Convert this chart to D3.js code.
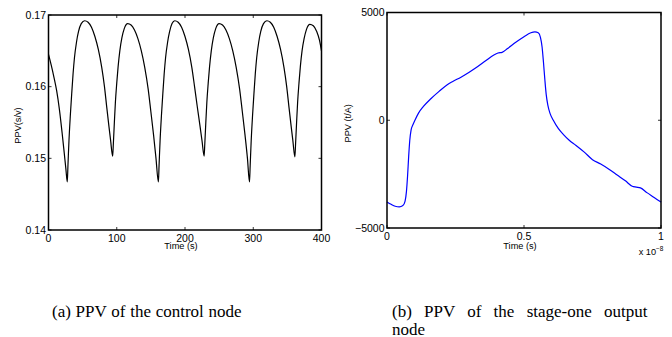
<!DOCTYPE html>
<html>
<head>
<meta charset="utf-8">
<script src="https://cdn.jsdelivr.net/npm/d3@7/dist/d3.min.js"></script>
<style>
  body { margin: 0; background: #fff; }
  svg { display: block; }
  .tick-lbl { font-family: "Liberation Sans", Arial, sans-serif; font-size: 10.5px; fill: #000; }
  .ax-lbl { font-family: "Liberation Sans", Arial, sans-serif; font-size: 9.2px; fill: #000; }
  .caption { font-family: "Liberation Serif", "Times New Roman", serif; font-size: 17px; fill: #000; }
</style>
</head>
<body>
<svg id="fig" width="672" height="337"></svg>
<script>
// --- data: (a) control node ---
var timeA = [0, 4, 8, 12, 16, 20, 23, 25.5, 27.5,
  28.5, 30, 32, 34, 36, 38, 41, 44, 48, 53,
  58, 63, 68, 73, 78, 82, 85.5, 88.5, 91, 94,
  95, 96.5, 98, 100, 102, 104.5, 107.5, 111, 116,
  121, 126, 131, 136, 141, 146, 150, 154, 157.5, 161,
  162, 163.5, 165.5, 167.5, 169.5, 171.5, 174.5, 177.5, 181, 185,
  190, 195, 200, 205, 210, 214, 218, 222, 225, 228,
  229, 230.5, 232, 234, 236, 238.5, 241.5, 245, 250,
  255, 260, 265, 270, 275, 280, 284, 288, 291.5, 294.5,
  295.5, 297, 299, 301, 303, 305, 308, 311, 315, 320,
  325, 330, 335, 340, 345, 349, 352.5, 355.5, 358, 361,
  362, 363.5, 365, 367, 369, 371.5, 374.5, 378, 383,
  388, 393, 397, 400];
var ppvA = [0.1645, 0.1630, 0.1613, 0.1594, 0.1568, 0.1535, 0.1508, 0.1485, 0.1467,
  0.1490, 0.1525, 0.1560, 0.1590, 0.1618, 0.1640, 0.1662, 0.1677, 0.1688, 0.1692,
  0.1690, 0.1683, 0.1670, 0.1652, 0.1627, 0.1600, 0.1570, 0.1545, 0.1525, 0.1503,
  0.1520, 0.1550, 0.1578, 0.1605, 0.1628, 0.1650, 0.1668, 0.1681, 0.1688,
  0.1686, 0.1679, 0.1667, 0.1650, 0.1627, 0.1597, 0.1565, 0.1532, 0.1500, 0.1467,
  0.1490, 0.1525, 0.1560, 0.1590, 0.1618, 0.1640, 0.1662, 0.1677, 0.1688, 0.1692,
  0.1690, 0.1683, 0.1670, 0.1652, 0.1627, 0.1600, 0.1572, 0.1545, 0.1524, 0.1503,
  0.1520, 0.1550, 0.1578, 0.1605, 0.1628, 0.1650, 0.1668, 0.1681, 0.1688,
  0.1686, 0.1679, 0.1667, 0.1650, 0.1627, 0.1597, 0.1565, 0.1532, 0.1500, 0.1467,
  0.1490, 0.1525, 0.1560, 0.1590, 0.1618, 0.1640, 0.1662, 0.1677, 0.1688, 0.1692,
  0.1690, 0.1683, 0.1670, 0.1652, 0.1627, 0.1600, 0.1570, 0.1545, 0.1525, 0.1502,
  0.1520, 0.1550, 0.1578, 0.1605, 0.1628, 0.1650, 0.1667, 0.1680, 0.1687,
  0.1685, 0.1677, 0.1665, 0.1650];
var xTicksA = [0, 100, 200, 300, 400];
var yTicksA = [0.14, 0.15, 0.16, 0.17];

// --- data: (b) stage-one output node (time in units of 1e-8 s) ---
var timeB = [0, 0.015, 0.030, 0.045, 0.058, 0.066, 0.071, 0.075, 0.079, 0.083, 0.088, 0.095,
  0.102, 0.115, 0.133, 0.160, 0.190, 0.220, 0.240, 0.270, 0.300, 0.330, 0.360, 0.390,
  0.405, 0.420, 0.440, 0.470, 0.500, 0.525, 0.540, 0.552, 0.560, 0.566, 0.571, 0.576,
  0.581, 0.587, 0.595, 0.607, 0.625, 0.645, 0.665, 0.690, 0.720, 0.750, 0.780, 0.810,
  0.840, 0.870, 0.895, 0.910, 0.925, 0.950, 0.975, 1.000];
var ppvB = [-3790, -3900, -3990, -4020, -3960, -3750, -3300, -2600, -1700, -950, -450, -200,
  0, 330, 640, 1000, 1340, 1650, 1800, 2000, 2230, 2480, 2760, 3030,
  3120, 3150, 3330, 3620, 3880, 4060, 4100, 4060, 3850, 3400, 2700, 1900,
  1200, 700, 320, 0, -380, -680, -930, -1170, -1480, -1830, -2030, -2270,
  -2540, -2810, -3060, -3100, -3140, -3370, -3580, -3800];
var xTicksB = [0, 0.5, 1];
var yTicksB = [-5000, 0, 5000];

var captions = ["(a) PPV of the control node", "(b) PPV of the stage-one output", "node"];

var svg = d3.select("#fig");

// draws one MATLAB style panel
function drawPanel(opt) {
	var g = svg.append("g");
	var x = d3.scaleLinear().domain(opt.xDomain).range([opt.left, opt.right]);
	var y = d3.scaleLinear().domain(opt.yDomain).range([opt.bottom, opt.top]);

	// the curve
	var pts = opt.xs.map(function(d, i) { return [d, opt.ys[i]]; });
	var line = d3.line()
		.x(function(d) { return x(d[0]); })
		.y(function(d) { return y(d[1]); })
		.curve(d3.curveMonotoneX);
	g.append("path")
		.datum(pts)
		.attr("d", line)
		.attr("fill", "none")
		.attr("stroke", opt.color)
		.attr("stroke-width", 1.2);

	// box
	g.append("rect")
		.attr("x", opt.left).attr("y", opt.top)
		.attr("width", opt.right - opt.left).attr("height", opt.bottom - opt.top)
		.attr("fill", "none").attr("stroke", "#000").attr("stroke-width", 1.5);

	// inward ticks, all four sides
	var tl = 3;
	opt.xTicks.forEach(function(t) {
		g.append("line").attr("x1", x(t)).attr("x2", x(t)).attr("y1", opt.bottom).attr("y2", opt.bottom - tl)
			.attr("stroke", "#000").attr("stroke-width", 0.8);
		g.append("line").attr("x1", x(t)).attr("x2", x(t)).attr("y1", opt.top).attr("y2", opt.top + tl)
			.attr("stroke", "#000").attr("stroke-width", 0.8);
		g.append("text").attr("class", "tick-lbl")
			.attr("x", x(t)).attr("y", opt.bottom + 11.5)
			.attr("text-anchor", "middle")
			.text(opt.xFmt(t));
	});
	opt.yTicks.forEach(function(t) {
		g.append("line").attr("x1", opt.left).attr("x2", opt.left + tl).attr("y1", y(t)).attr("y2", y(t))
			.attr("stroke", "#000").attr("stroke-width", 0.8);
		g.append("line").attr("x1", opt.right).attr("x2", opt.right - tl).attr("y1", y(t)).attr("y2", y(t))
			.attr("stroke", "#000").attr("stroke-width", 0.8);
		g.append("text").attr("class", "tick-lbl")
			.attr("x", opt.left - 2.5).attr("y", y(t) + 3.7)
			.attr("text-anchor", "end")
			.text(opt.yFmt(t));
	});

	// axis labels
	g.append("text").attr("class", "ax-lbl")
		.attr("x", (opt.left + opt.right) / 2 - 4).attr("y", opt.bottom + opt.xLabelDy)
		.attr("text-anchor", "middle")
		.text("Time (s)");
	g.append("text").attr("class", "ax-lbl")
		.attr("transform", "translate(" + opt.yLabelX + "," + ((opt.top + opt.bottom) / 2 + 3) + ") rotate(-90)")
		.attr("text-anchor", "middle")
		.text(opt.yLabel);
	return g;
}

drawPanel({
	left: 48.5, right: 321.5, top: 15, bottom: 230,
	xDomain: [0, 400], yDomain: [0.14, 0.17],
	xs: timeA, ys: ppvA, color: "#000",
	xTicks: xTicksA, yTicks: yTicksA,
	xFmt: function(d) { return d; },
	yFmt: function(d) { return d3.format(".2f")(d); },
	xLabelDy: 18.5, yLabel: "PPV(s/v)", yLabelX: 21
});

var gB = drawPanel({
	left: 387, right: 661, top: 12.5, bottom: 228,
	xDomain: [0, 1], yDomain: [-5000, 5000],
	xs: timeB, ys: ppvB, color: "#0000ff",
	xTicks: xTicksB, yTicks: yTicksB,
	xFmt: function(d) { return d; },
	yFmt: function(d) { return d < 0 ? "\u2212" + Math.abs(d) : d; },
	xLabelDy: 21, yLabel: "PPV (t/A)", yLabelX: 351
});

// x 10^-8 exponent note
gB.append("text").attr("class", "ax-lbl")
	.attr("x", 656).attr("y", 255).attr("text-anchor", "end")
	.text("x 10");
gB.append("text").attr("class", "ax-lbl")
	.attr("x", 656).attr("y", 250.5).style("font-size", "6.5px")
	.text("\u22128");

// captions (justified text: wide word gaps)
svg.append("text").attr("class", "caption")
	.attr("x", 52).attr("y", 317)
	.style("word-spacing", "0.5px")
	.text(captions[0]);
svg.append("text").attr("class", "caption")
	.attr("x", 392).attr("y", 317)
	.style("word-spacing", "8px")
	.text(captions[1]);
svg.append("text").attr("class", "caption")
	.attr("x", 392).attr("y", 334.5)
	.text(captions[2]);
</script>
</body>
</html>
